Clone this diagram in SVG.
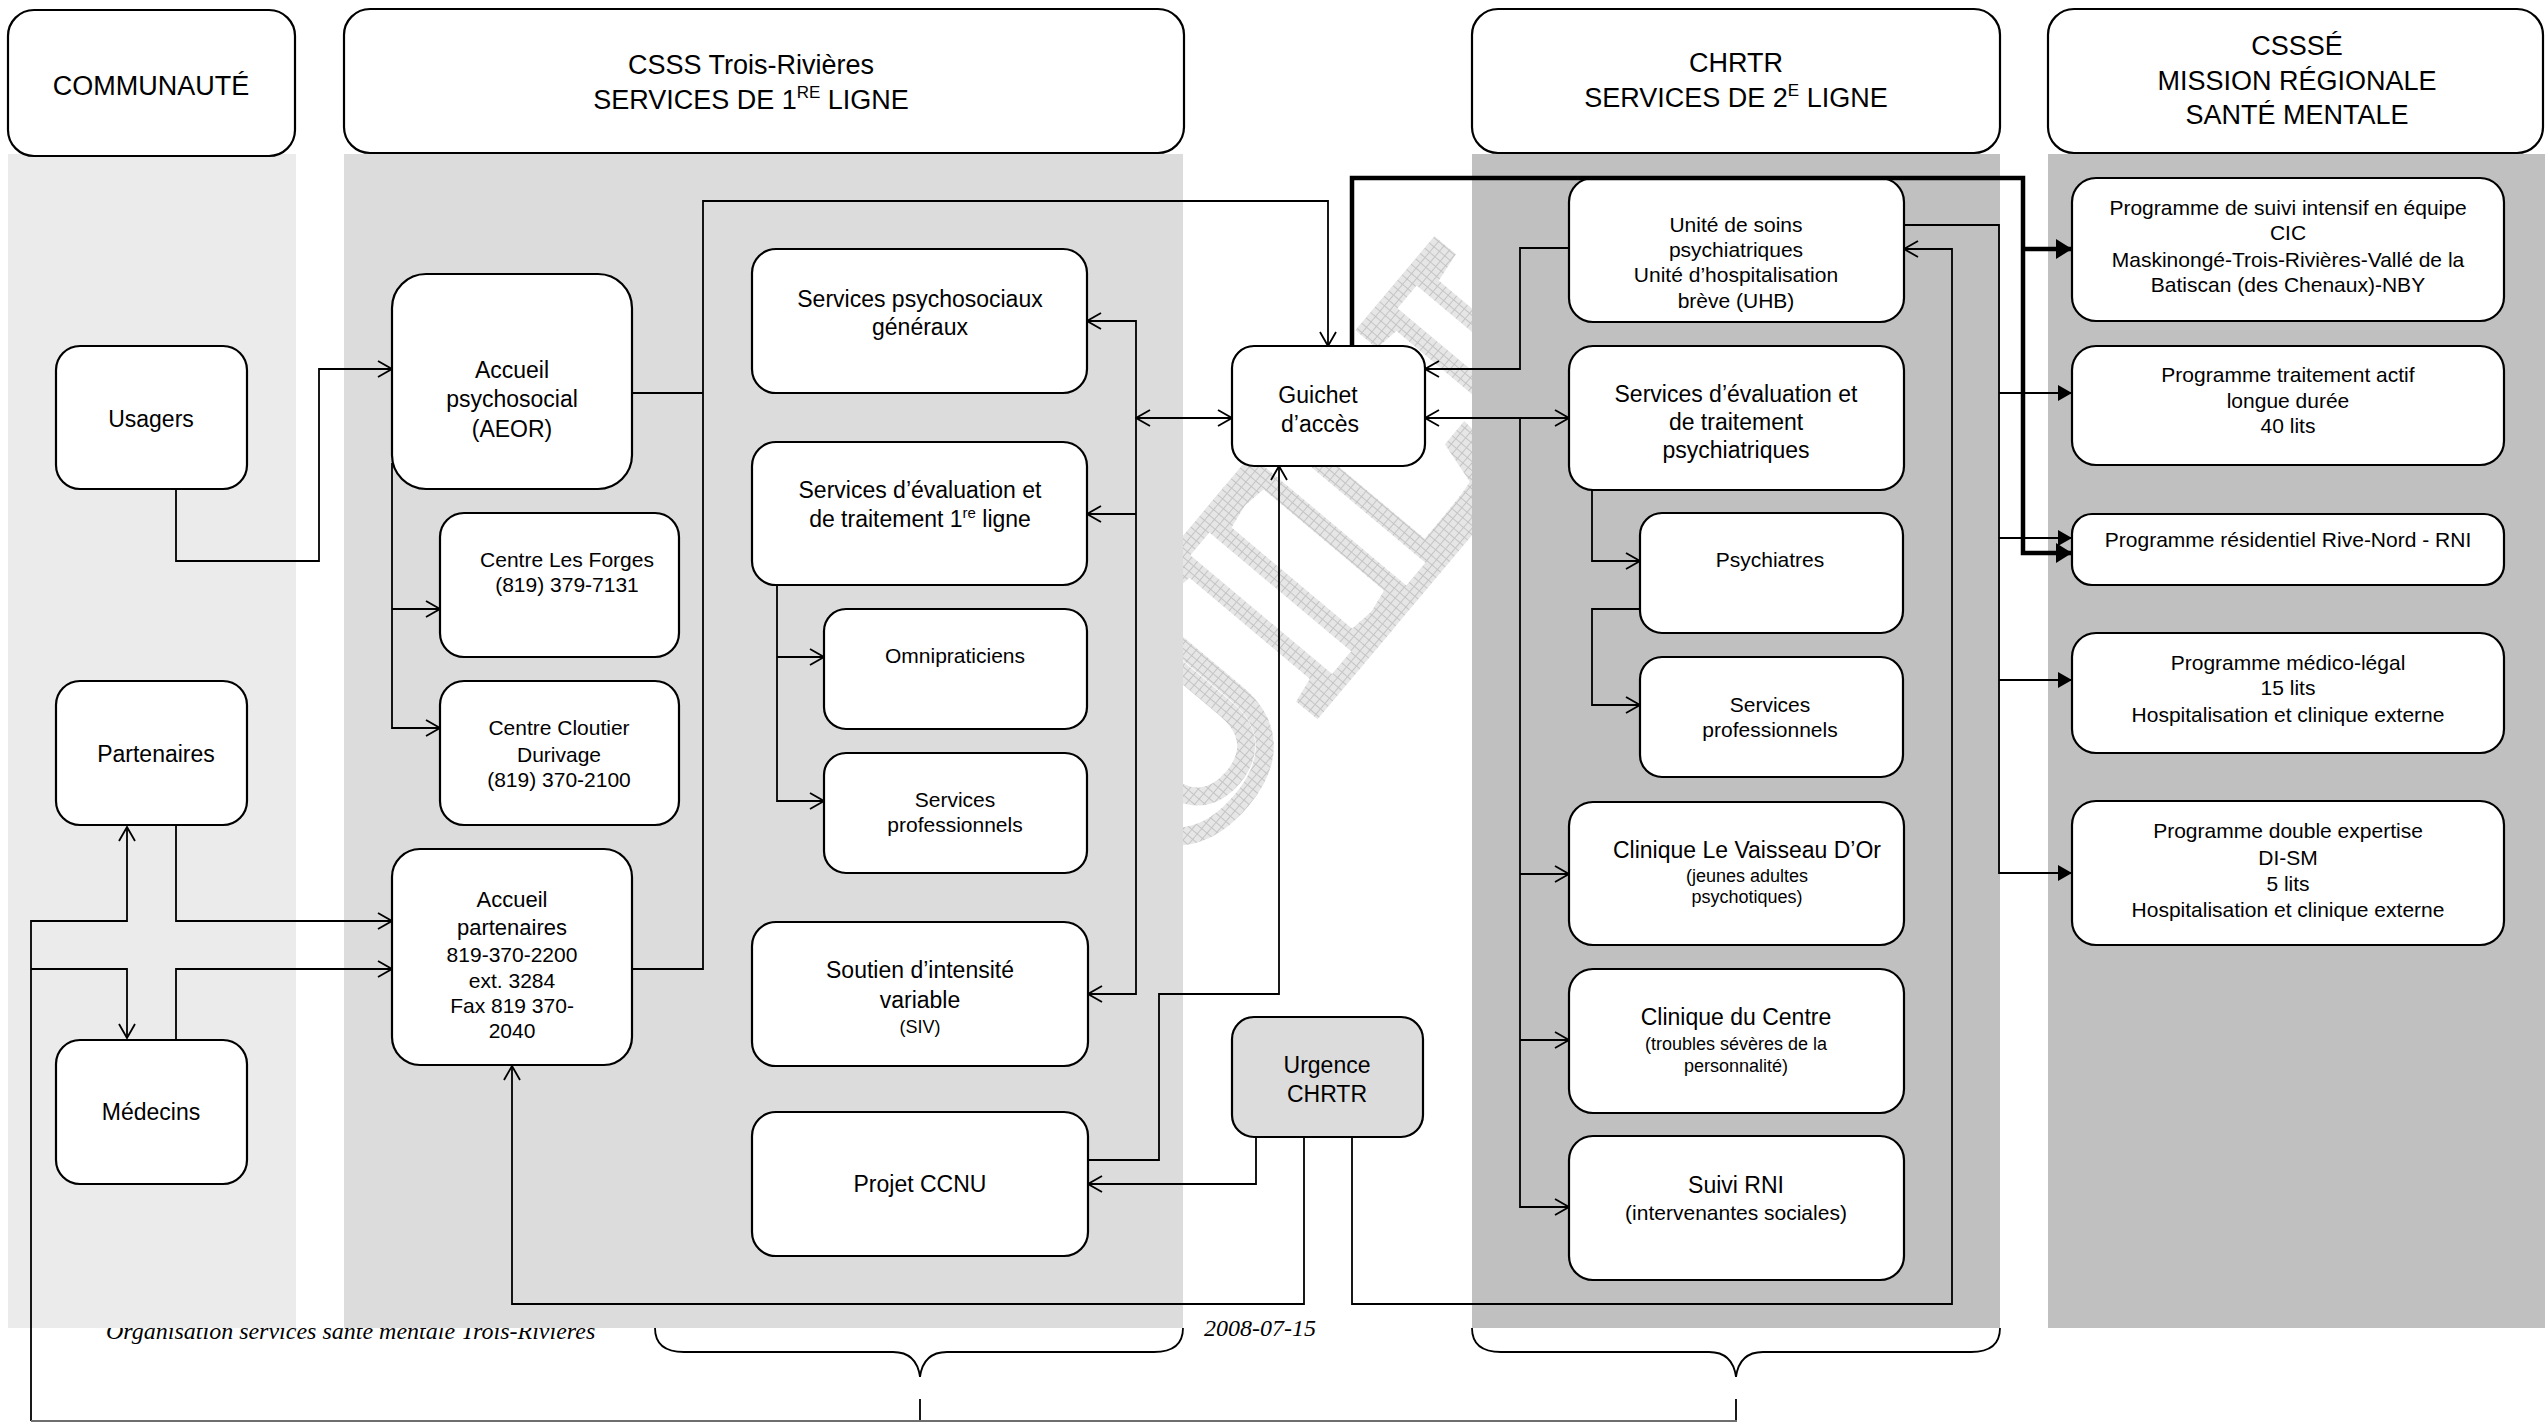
<svg xmlns="http://www.w3.org/2000/svg" width="2545" height="1425" viewBox="0 0 2545 1425">
  <style>
    .box{fill:#fff;stroke:#000;stroke-width:2.2}
    .urg{fill:#dcdcdc;stroke:#000;stroke-width:2.2}
    .t{font-family:"Liberation Sans",Arial,sans-serif;fill:#000;text-anchor:middle}
    .h{font-size:27px}
    .t23{font-size:23px}
    .t21{font-size:21px}
    .t18{font-size:18px}
    .c{fill:none;stroke:#000;stroke-width:1.8}
    .thick{fill:none;stroke:#000;stroke-width:4.5}
    .ft{font-family:"Liberation Serif","Times New Roman",serif;font-style:italic;font-size:24px;fill:#000}
  </style>
  <defs>
    <marker id="open" viewBox="0 0 16 18" refX="15" refY="9" markerWidth="16" markerHeight="18" markerUnits="userSpaceOnUse" orient="auto-start-reverse">
      <path d="M1,1 L15,9 L1,17" fill="none" stroke="#000" stroke-width="1.8"/>
    </marker>
    <marker id="solid" viewBox="0 0 14 16" refX="14" refY="8" markerWidth="14" markerHeight="16" markerUnits="userSpaceOnUse" orient="auto">
      <path d="M0,0 L14,8 L0,16 Z" fill="#000"/>
    </marker>
    <marker id="solidBig" viewBox="0 0 16 20" refX="16" refY="10" markerWidth="16" markerHeight="20" markerUnits="userSpaceOnUse" orient="auto">
      <path d="M0,0 L16,10 L0,20 Z" fill="#000"/>
    </marker>
    <pattern id="wmgrid" width="7" height="7" patternUnits="userSpaceOnUse">
      <rect width="7" height="7" fill="#e6e6e6"/>
      <path d="M0,0.5H7M0.5,0V7" stroke="#c4c4c4" stroke-width="1"/>
    </pattern>
    <clipPath id="gap">
      <rect x="1183" y="154" width="289" height="1174"/>
    </clipPath>
  </defs>

  <rect width="2545" height="1425" fill="#fff"/>

  <!-- footer, partly hidden under the column backgrounds -->
  <text class="ft" x="106" y="1339">Organisation services santé mentale Trois-Rivières</text>
  <text class="ft" x="1204" y="1336">2008-07-15</text>

  <!-- draft watermark, only seen in the gap between the columns -->
  <g clip-path="url(#gap)">
    <text x="1343" y="675" transform="rotate(-50 1343 675)" font-family="Liberation Serif,serif" font-weight="bold" font-size="310" text-anchor="middle" fill="#fff" stroke="url(#wmgrid)" stroke-width="18">BROUILLON</text>
  </g>

  <!-- column backgrounds -->
  <g id="columns">
    <rect x="8" y="154" width="288" height="1174" fill="#ebebeb"/>
    <rect x="344" y="154" width="839" height="1174" fill="#dcdcdc"/>
    <rect x="1472" y="154" width="528" height="1174" fill="#c0c0c0"/>
    <rect x="2048" y="154" width="497" height="1174" fill="#c0c0c0"/>
  </g>

  <!-- column headers -->
  <g id="hdr-communaute">
    <rect class="box" x="8" y="10" width="287" height="146" rx="26"/>
    <text class="t h" x="151" y="95">COMMUNAUTÉ</text>
  </g>
  <g id="hdr-csss">
    <rect class="box" x="344" y="9" width="840" height="144" rx="26"/>
    <text class="t h" x="751" y="74">CSSS Trois-Rivières</text>
    <text class="t h" x="751" y="109">SERVICES DE 1<tspan font-size="17" dy="-11">RE</tspan><tspan dy="11"> LIGNE</tspan></text>
  </g>
  <g id="hdr-chrtr">
    <rect class="box" x="1472" y="9" width="528" height="144" rx="26"/>
    <text class="t h" x="1736" y="72">CHRTR</text>
    <text class="t h" x="1736" y="107">SERVICES DE 2<tspan font-size="17" dy="-11">E</tspan><tspan dy="11"> LIGNE</tspan></text>
  </g>
  <g id="hdr-sm">
    <rect class="box" x="2048" y="9" width="495" height="144" rx="26"/>
    <text class="t h" x="2297" y="55">CSSSÉ</text>
    <text class="t h" x="2297" y="90">MISSION RÉGIONALE</text>
    <text class="t h" x="2297" y="124">SANTÉ MENTALE</text>
  </g>

  <!-- nodes -->
  <g id="usagers">
    <rect class="box" x="56" y="346" width="191" height="143" rx="24"/>
    <text class="t t23" x="151" y="427">Usagers</text>
  </g>
  <g id="partenaires">
    <rect class="box" x="56" y="681" width="191" height="144" rx="24"/>
    <text class="t t23" x="156" y="762">Partenaires</text>
  </g>
  <g id="medecins">
    <rect class="box" x="56" y="1040" width="191" height="144" rx="24"/>
    <text class="t t23" x="151" y="1120">Médecins</text>
  </g>
  <g id="aeor">
    <rect class="box" x="392" y="274" width="240" height="215" rx="34"/>
    <text class="t t23" x="512" y="378">Accueil</text>
    <text class="t t23" x="512" y="407">psychosocial</text>
    <text class="t t23" x="512" y="437">(AEOR)</text>
  </g>
  <g id="les-forges">
    <rect class="box" x="440" y="513" width="239" height="144" rx="24"/>
    <text class="t t21" x="567" y="567">Centre Les Forges</text>
    <text class="t t21" x="567" y="592">(819) 379-7131</text>
  </g>
  <g id="cloutier">
    <rect class="box" x="440" y="681" width="239" height="144" rx="24"/>
    <text class="t t21" x="559" y="735">Centre Cloutier</text>
    <text class="t t21" x="559" y="762">Durivage</text>
    <text class="t t21" x="559" y="787">(819) 370-2100</text>
  </g>
  <g id="accueil-partenaires">
    <rect class="box" x="392" y="849" width="240" height="216" rx="28"/>
    <text class="t" font-size="22" x="512" y="907">Accueil</text>
    <text class="t" font-size="22" x="512" y="935">partenaires</text>
    <text class="t t21" x="512" y="962">819-370-2200</text>
    <text class="t t21" x="512" y="988">ext. 3284</text>
    <text class="t t21" x="512" y="1013">Fax 819 370-</text>
    <text class="t t21" x="512" y="1038">2040</text>
  </g>
  <g id="psychosociaux">
    <rect class="box" x="752" y="249" width="335" height="144" rx="24"/>
    <text class="t t23" x="920" y="307">Services psychosociaux</text>
    <text class="t t23" x="920" y="335">généraux</text>
  </g>
  <g id="eval-1re">
    <rect class="box" x="752" y="442" width="335" height="143" rx="24"/>
    <text class="t t23" x="920" y="498">Services d’évaluation et</text>
    <text class="t t23" x="920" y="527">de traitement 1<tspan font-size="15" dy="-9">re</tspan><tspan dy="9"> ligne</tspan></text>
  </g>
  <g id="omnipraticiens">
    <rect class="box" x="824" y="609" width="263" height="120" rx="22"/>
    <text class="t t21" x="955" y="663">Omnipraticiens</text>
  </g>
  <g id="prof-1re">
    <rect class="box" x="824" y="753" width="263" height="120" rx="22"/>
    <text class="t t21" x="955" y="807">Services</text>
    <text class="t t21" x="955" y="832">professionnels</text>
  </g>
  <g id="siv">
    <rect class="box" x="752" y="922" width="336" height="144" rx="24"/>
    <text class="t t23" x="920" y="978">Soutien d’intensité</text>
    <text class="t t23" x="920" y="1008">variable</text>
    <text class="t t18" x="920" y="1033">(SIV)</text>
  </g>
  <g id="ccnu">
    <rect class="box" x="752" y="1112" width="336" height="144" rx="24"/>
    <text class="t t23" x="920" y="1192">Projet CCNU</text>
  </g>
  <g id="guichet">
    <rect class="box" x="1232" y="346" width="193" height="120" rx="22"/>
    <text class="t t23" x="1318" y="403">Guichet</text>
    <text class="t t23" x="1320" y="432">d’accès</text>
  </g>
  <g id="urgence">
    <rect class="urg" x="1232" y="1017" width="191" height="120" rx="22"/>
    <text class="t t23" x="1327" y="1073">Urgence</text>
    <text class="t t23" x="1327" y="1102">CHRTR</text>
  </g>
  <g id="uhb">
    <rect class="box" x="1569" y="178" width="335" height="144" rx="24"/>
    <text class="t t21" x="1736" y="232">Unité de soins</text>
    <text class="t t21" x="1736" y="257">psychiatriques</text>
    <text class="t t21" x="1736" y="282">Unité d’hospitalisation</text>
    <text class="t t21" x="1736" y="308">brève (UHB)</text>
  </g>
  <g id="eval-psy">
    <rect class="box" x="1569" y="346" width="335" height="144" rx="24"/>
    <text class="t t23" x="1736" y="402">Services d’évaluation et</text>
    <text class="t t23" x="1736" y="430">de traitement</text>
    <text class="t t23" x="1736" y="458">psychiatriques</text>
  </g>
  <g id="psychiatres">
    <rect class="box" x="1640" y="513" width="263" height="120" rx="22"/>
    <text class="t t21" x="1770" y="567">Psychiatres</text>
  </g>
  <g id="prof-2e">
    <rect class="box" x="1640" y="657" width="263" height="120" rx="22"/>
    <text class="t t21" x="1770" y="712">Services</text>
    <text class="t t21" x="1770" y="737">professionnels</text>
  </g>
  <g id="vaisseau">
    <rect class="box" x="1569" y="802" width="335" height="143" rx="24"/>
    <text class="t t23" x="1747" y="858">Clinique Le Vaisseau D’Or</text>
    <text class="t t18" x="1747" y="882">(jeunes adultes</text>
    <text class="t t18" x="1747" y="903">psychotiques)</text>
  </g>
  <g id="clinique-centre">
    <rect class="box" x="1569" y="969" width="335" height="144" rx="24"/>
    <text class="t t23" x="1736" y="1025">Clinique du Centre</text>
    <text class="t t18" x="1736" y="1050">(troubles sévères de la</text>
    <text class="t t18" x="1736" y="1072">personnalité)</text>
  </g>
  <g id="suivi-rni">
    <rect class="box" x="1569" y="1136" width="335" height="144" rx="24"/>
    <text class="t t23" x="1736" y="1193">Suivi RNI</text>
    <text class="t t21" x="1736" y="1220">(intervenantes sociales)</text>
  </g>
  <g id="cic">
    <rect class="box" x="2072" y="178" width="432" height="143" rx="24"/>
    <text class="t t21" x="2288" y="215">Programme de suivi intensif en équipe</text>
    <text class="t t21" x="2288" y="240">CIC</text>
    <text class="t t21" x="2288" y="267">Maskinongé-Trois-Rivières-Vallé de la</text>
    <text class="t t21" x="2288" y="292">Batiscan (des Chenaux)-NBY</text>
  </g>
  <g id="ptald">
    <rect class="box" x="2072" y="346" width="432" height="119" rx="24"/>
    <text class="t t21" x="2288" y="382">Programme traitement actif</text>
    <text class="t t21" x="2288" y="408">longue durée</text>
    <text class="t t21" x="2288" y="433">40 lits</text>
  </g>
  <g id="residentiel">
    <rect class="box" x="2072" y="514" width="432" height="71" rx="20"/>
    <text class="t t21" x="2288" y="547">Programme résidentiel Rive-Nord - RNI</text>
  </g>
  <g id="medico-legal">
    <rect class="box" x="2072" y="633" width="432" height="120" rx="24"/>
    <text class="t t21" x="2288" y="670">Programme médico-légal</text>
    <text class="t t21" x="2288" y="695">15 lits</text>
    <text class="t t21" x="2288" y="722">Hospitalisation et clinique externe</text>
  </g>
  <g id="double-expertise">
    <rect class="box" x="2072" y="801" width="432" height="144" rx="24"/>
    <text class="t t21" x="2288" y="838">Programme double expertise</text>
    <text class="t t21" x="2288" y="865">DI-SM</text>
    <text class="t t21" x="2288" y="891">5 lits</text>
    <text class="t t21" x="2288" y="917">Hospitalisation et clinique externe</text>
  </g>

  <!-- connectors -->
  <g id="connectors">
    <!-- community side -->
    <path class="c" d="M176,489 V561 H319 V369 H392" marker-end="url(#open)"/>
    <path class="c" d="M176,825 V921 H392" marker-end="url(#open)"/>
    <path class="c" d="M31,1421 V921 H127 V827" marker-end="url(#open)"/>
    <path class="c" d="M31,969 H127 V1038" marker-end="url(#open)"/>
    <path class="c" d="M176,1040 V969 H392" marker-end="url(#open)"/>
    <!-- first line -->
    <path class="c" d="M392,463 V728 H440" marker-end="url(#open)"/>
    <path class="c" d="M392,609 H440" marker-end="url(#open)"/>
    <path class="c" d="M632,393 H703"/>
    <path class="c" d="M632,969 H703 V201 H1328 V346" marker-end="url(#open)"/>
    <path class="c" d="M1087,321 H1136 V994 H1088" marker-start="url(#open)" marker-end="url(#open)"/>
    <path class="c" d="M1136,514 H1087" marker-end="url(#open)"/>
    <path class="c" d="M1136,418 H1232" marker-start="url(#open)" marker-end="url(#open)"/>
    <path class="c" d="M777,585 V801 H824" marker-end="url(#open)"/>
    <path class="c" d="M777,657 H824" marker-end="url(#open)"/>
    <path class="c" d="M1088,1160 H1159 V994 H1279 V466" marker-end="url(#open)"/>
    <!-- emergency -->
    <path class="c" d="M1256,1137 V1184 H1088" marker-end="url(#open)"/>
    <path class="c" d="M1304,1137 V1304 H512 V1066" marker-end="url(#open)"/>
    <path class="c" d="M1352,1137 V1304 H1952 V249 H1904" marker-end="url(#open)"/>
    <!-- second line -->
    <path class="c" d="M1569,248 H1520 V369 H1425" marker-end="url(#open)"/>
    <path class="c" d="M1425,418 H1569" marker-start="url(#open)" marker-end="url(#open)"/>
    <path class="c" d="M1520,418 V1207 H1569" marker-end="url(#open)"/>
    <path class="c" d="M1520,874 H1569" marker-end="url(#open)"/>
    <path class="c" d="M1520,1040 H1569" marker-end="url(#open)"/>
    <path class="c" d="M1592,490 V561 H1640" marker-end="url(#open)"/>
    <path class="c" d="M1640,609 H1592 V705 H1640" marker-end="url(#open)"/>
    <!-- regional mission -->
    <path class="c" d="M1904,225 H1999 V873 H2072" marker-end="url(#solid)"/>
    <path class="c" d="M1999,393 H2072" marker-end="url(#solid)"/>
    <path class="c" d="M1999,538 H2072" marker-end="url(#solid)"/>
    <path class="c" d="M1999,680 H2072" marker-end="url(#solid)"/>
    <path class="thick" d="M1352,346 V178 H2023 V553 H2072" marker-end="url(#solidBig)"/>
    <path class="thick" d="M2023,249 H2072" marker-end="url(#solidBig)"/>
    <!-- braces and return line -->
    <path class="c" d="M655,1328 C655,1344 664,1352 684,1352 H893 C910,1352 918,1362 920,1377 C922,1362 930,1352 947,1352 H1154 C1174,1352 1183,1344 1183,1328"/>
    <path class="c" d="M1472,1328 C1472,1344 1481,1352 1501,1352 H1709 C1726,1352 1734,1362 1736,1377 C1738,1362 1746,1352 1763,1352 H1971 C1991,1352 2000,1344 2000,1328"/>
    <path class="c" d="M920,1399 V1421 M1736,1399 V1421"/>
    <path fill="none" stroke="#6e6e6e" stroke-width="2" d="M31,1421 H1737"/>
  </g>
</svg>
